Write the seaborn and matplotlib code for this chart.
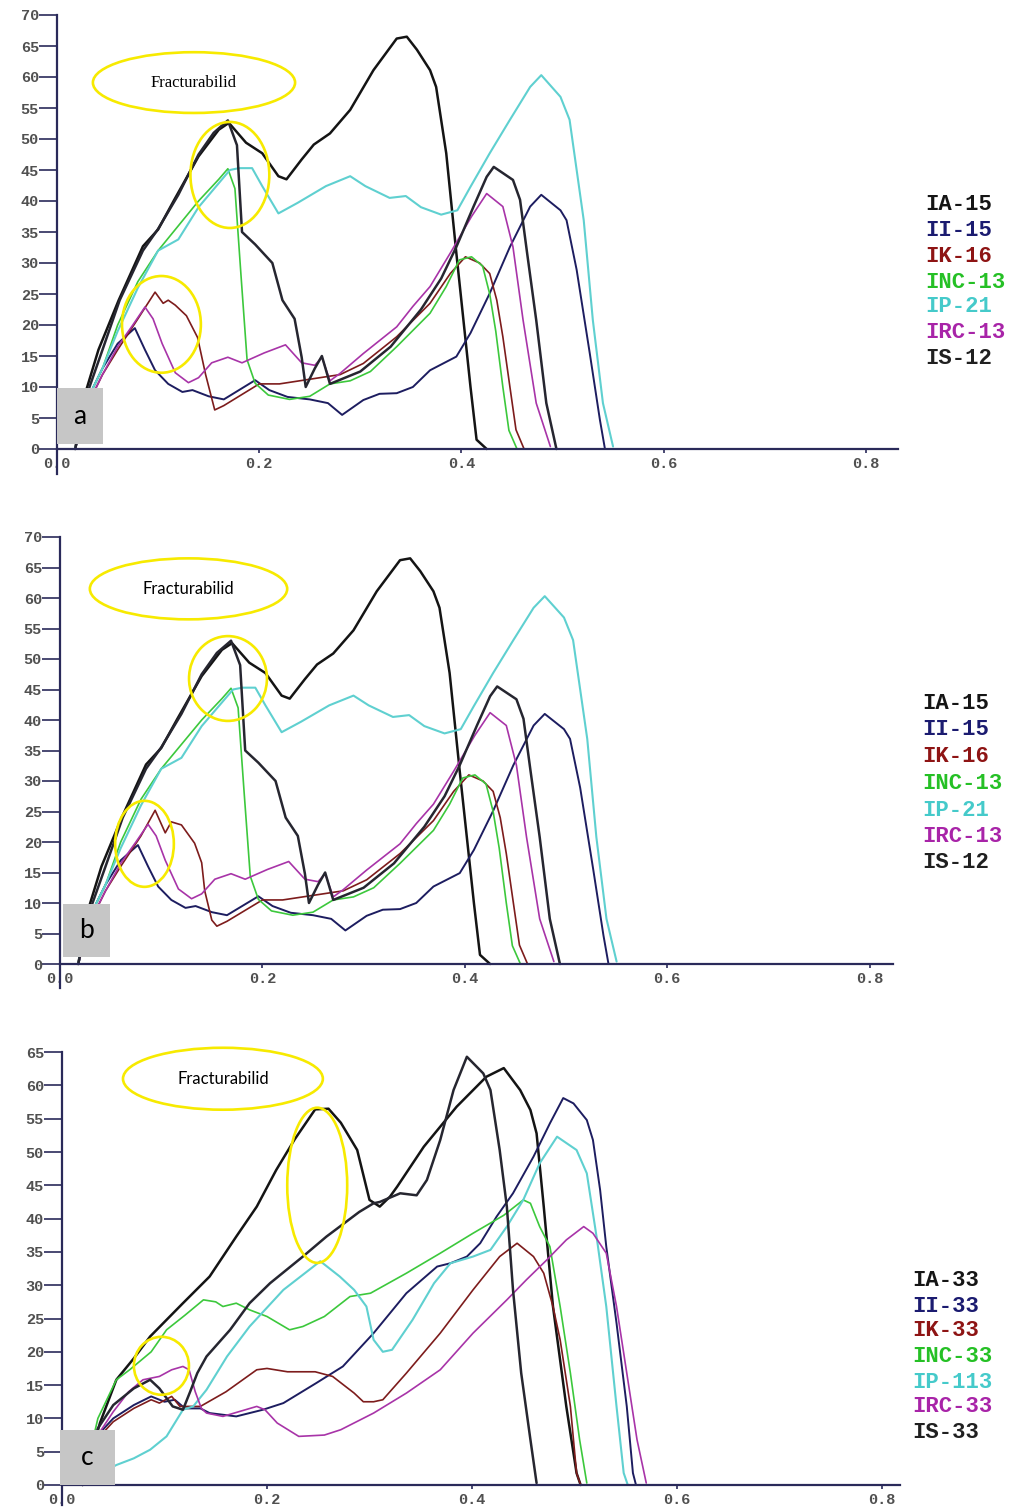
import matplotlib
matplotlib.use("Agg")
import matplotlib.pyplot as plt
import seaborn as sns
import pandas as pd
from matplotlib.patches import Ellipse, Rectangle

# ---------------- data ----------------
labels_ab = ["IA-15", "II-15", "IK-16", "INC-13", "IP-21", "IRC-13", "IS-12"]
labels_c = ["IA-33", "II-33", "IK-33", "INC-33", "IP-113", "IRC-33", "IS-33"]
x_ticks = [0.0, 0.2, 0.4, 0.6, 0.8]
y_ticks_ab = list(range(0, 75, 5))
y_ticks_c = list(range(0, 70, 5))
annot_text = "Fracturabilid"
panel_letters = ["a", "b", "c"]

# ---- panel a ----
a_IA_x = [0.018, 0.028, 0.041, 0.061, 0.085, 0.100, 0.116, 0.140, 0.160, 0.170, 0.187, 0.203, 0.219, 0.227,
          0.242, 0.254, 0.270, 0.290, 0.313, 0.336, 0.346, 0.356, 0.369, 0.375, 0.385, 0.395, 0.402, 0.409,
          0.415, 0.425]
a_IA_y = [0, 9, 16, 24, 32.7, 35.4, 40.2, 47.2, 51.5, 52.6, 49.4, 47.7, 44, 43.5,
          46.7, 49.1, 50.9, 54.7, 61.1, 66.2, 66.5, 64.4, 61.1, 58.4, 47.7, 31.6, 20.8, 10,
          1.5, 0]
a_II_x = [0.018, 0.030, 0.045, 0.060, 0.077, 0.087, 0.097, 0.110, 0.124, 0.134, 0.150, 0.165, 0.180, 0.196,
          0.210, 0.228, 0.250, 0.268, 0.282, 0.303, 0.319, 0.336, 0.352, 0.369, 0.395, 0.409, 0.428, 0.448,
          0.468, 0.479, 0.498, 0.504, 0.514, 0.527, 0.537, 0.542]
a_II_y = [0, 8, 13, 17, 19.5, 16, 12.7, 10.5, 9.2, 9.5, 8.5, 8.0, 9.5, 11.1,
          9.5, 8.4, 8.0, 7.4, 5.5, 7.9, 8.9, 9, 10, 12.7, 14.9, 18.7, 25.1, 32.6,
          39.1, 41, 38.5, 36.9, 28.9, 15.4, 4.7, 0]
a_IK_x = [0.018, 0.030, 0.045, 0.060, 0.080, 0.097, 0.105, 0.110, 0.117, 0.128, 0.139, 0.147, 0.156, 0.165,
          0.180, 0.200, 0.220, 0.240, 0.260, 0.280, 0.303, 0.336, 0.369, 0.389, 0.404, 0.418, 0.428, 0.435,
          0.441, 0.448, 0.454, 0.462]
a_IK_y = [0, 7, 12, 16, 21, 25.3, 23.5, 24, 23.2, 21.5, 18, 12, 6.3, 7,
          8.5, 10.5, 10.5, 11, 11.5, 12, 13.8, 18.1, 23.5, 28.3, 31, 30, 28.3, 24,
          18.1, 10, 3.1, 0]
a_INC_x = [0.018, 0.030, 0.045, 0.060, 0.080, 0.100, 0.120, 0.140, 0.160, 0.169, 0.176, 0.182, 0.188, 0.196,
           0.209, 0.230, 0.250, 0.270, 0.290, 0.310, 0.336, 0.369, 0.385, 0.398, 0.410, 0.421, 0.428, 0.434,
           0.441, 0.447, 0.455]
a_INC_y = [0, 8, 13, 20, 27, 32, 36, 40, 43.5, 45.2, 42, 28, 14.4, 10.6,
           8.7, 8, 8.5, 10.5, 11, 12.5, 16.5, 21.9, 26.2, 30.5, 31, 29.5, 25, 19,
           10, 3, 0]
a_IP_x = [0.018, 0.030, 0.045, 0.060, 0.080, 0.100, 0.120, 0.140, 0.171, 0.180, 0.193, 0.203, 0.219, 0.238,
          0.266, 0.290, 0.305, 0.329, 0.345, 0.360, 0.380, 0.396, 0.409, 0.428, 0.448, 0.468, 0.479, 0.498,
          0.507, 0.521, 0.530, 0.540, 0.550]
a_IP_y = [0, 8, 13, 19, 26, 32, 33.8, 39, 45, 45.3, 45.3, 42.4, 38, 39.7,
          42.4, 44, 42.4, 40.5, 40.8, 39, 37.8, 38.5, 42.3, 47.7, 53.1, 58.4, 60.3, 56.8,
          53.1, 36.9, 20.8, 7.4, 0.4]
a_IRC_x = [0.018, 0.030, 0.045, 0.060, 0.075, 0.087, 0.095, 0.104, 0.117, 0.130, 0.140, 0.153, 0.169, 0.183,
           0.205, 0.226, 0.242, 0.255, 0.262, 0.270, 0.280, 0.303, 0.336, 0.352, 0.369, 0.389, 0.410, 0.425,
           0.441, 0.451, 0.461, 0.474, 0.488]
a_IRC_y = [0, 7, 12, 16.5, 20, 22.9, 21, 17, 12.3, 10.7, 11.5, 13.9, 14.8, 13.9,
           15.5, 16.8, 13.9, 13.5, 14.8, 11, 12.2, 15.4, 19.7, 23, 26.2, 31.6, 37.5, 41.2,
           39.1, 32.6, 20.8, 7.4, 0.4]
a_IS_x = [0.018, 0.030, 0.045, 0.062, 0.085, 0.100, 0.120, 0.140, 0.155, 0.169, 0.178, 0.183, 0.196, 0.213,
          0.223, 0.235, 0.242, 0.246, 0.255, 0.262, 0.270, 0.285, 0.300, 0.330, 0.360, 0.380, 0.395, 0.412,
          0.425, 0.432, 0.451, 0.458, 0.465, 0.474, 0.484, 0.494]
a_IS_y = [0, 9, 16, 24, 32, 35.5, 41, 47.5, 51, 53, 49, 35, 33, 30,
          24, 21, 14.8, 10, 13, 15, 10.5, 11.5, 12.5, 16.5, 22.5, 27.5, 32.6, 39.1,
          43.9, 45.5, 43.4, 40.2, 31.6, 20.8, 7.4, 0]

# ---- panel b (same tests; IK-16 differs slightly) ----
b_IK_x = [0.018, 0.030, 0.045, 0.060, 0.080, 0.094, 0.104, 0.110, 0.120, 0.133, 0.140, 0.143, 0.150, 0.155,
          0.165, 0.180, 0.200, 0.220, 0.240, 0.260, 0.280, 0.303, 0.336, 0.369, 0.389, 0.404, 0.418, 0.428,
          0.435, 0.441, 0.448, 0.454, 0.462]
b_IK_y = [0, 7, 12, 16, 21, 25.2, 21.5, 23.3, 22.8, 19.8, 16.6, 12, 7.2, 6.2,
          7, 8.5, 10.5, 10.5, 11, 11.5, 12, 13.8, 18.1, 23.5, 28.3, 31, 30, 28.3,
          24, 18.1, 10, 3.1, 0]

# ---- panel c ----
c_IA_x = [0.020, 0.037, 0.053, 0.070, 0.086, 0.102, 0.118, 0.144, 0.170, 0.190, 0.209, 0.227, 0.247, 0.260,
          0.272, 0.288, 0.300, 0.310, 0.320, 0.327, 0.353, 0.385, 0.414, 0.431, 0.447, 0.457, 0.463, 0.470,
          0.479, 0.492, 0.502, 0.506]
c_IA_y = [0, 9.3, 15.8, 19, 22.3, 24.8, 27.3, 31.3, 37.3, 41.8, 47.3, 51.9, 56.4, 56.5,
          54.4, 50.3, 42.8, 41.8, 43.3, 44.8, 50.8, 56.8, 61.3, 62.6, 59.3, 56.3, 52.8, 41.8,
          26.8, 11.8, 1.8, 0]
c_II_x = [0.020, 0.035, 0.050, 0.070, 0.087, 0.100, 0.110, 0.120, 0.135, 0.144, 0.170, 0.196, 0.216, 0.248,
          0.274, 0.304, 0.336, 0.366, 0.379, 0.395, 0.408, 0.424, 0.440, 0.460, 0.476, 0.489, 0.499, 0.512,
          0.518, 0.525, 0.531, 0.541, 0.551, 0.557, 0.560]
c_II_y = [0, 7.5, 10, 12, 13.3, 12.5, 12.8, 11.5, 11.5, 10.8, 10.3, 11.3, 12.3, 15.3,
          17.8, 22.8, 28.8, 32.8, 33.3, 34.3, 36.3, 40.3, 43.8, 49.3, 54.3, 58.1, 57.3, 54.8,
          51.8, 44.3, 35.8, 24.3, 11.8, 1.8, 0]
c_IK_x = [0.020, 0.035, 0.050, 0.070, 0.087, 0.095, 0.107, 0.115, 0.135, 0.160, 0.190, 0.200, 0.220, 0.247,
          0.264, 0.285, 0.294, 0.304, 0.313, 0.336, 0.369, 0.401, 0.427, 0.444, 0.460, 0.470, 0.479, 0.486,
          0.496, 0.502, 0.506]
c_IK_y = [0, 7, 9.5, 11.5, 12.8, 12.3, 13.3, 11.8, 11.8, 14, 17.3, 17.5, 17, 17,
          16.3, 13.8, 12.5, 12.5, 12.8, 16.8, 22.8, 29.3, 34.3, 36.3, 34.3, 31.8, 26.8, 21.8,
          11.8, 1.8, 0]
c_INC_x = [0.020, 0.035, 0.053, 0.066, 0.087, 0.102, 0.120, 0.138, 0.150, 0.157, 0.170, 0.183, 0.200, 0.222,
           0.235, 0.256, 0.281, 0.301, 0.336, 0.369, 0.401, 0.431, 0.450, 0.457, 0.466, 0.476, 0.486, 0.496,
           0.505, 0.512]
c_INC_y = [0, 10, 15.8, 17.3, 20, 23.3, 25.5, 27.8, 27.5, 26.8, 27.3, 26.3, 25.3, 23.3,
           23.8, 25.3, 28.3, 28.8, 31.8, 34.8, 37.8, 40.5, 42.8, 42.3, 38.8, 35.8, 26.8, 16.8,
           6.8, 0.3]
c_IP_x = [0.030, 0.053, 0.070, 0.086, 0.102, 0.118, 0.128, 0.141, 0.161, 0.183, 0.216, 0.252, 0.271, 0.285,
          0.297, 0.304, 0.313, 0.322, 0.342, 0.363, 0.379, 0.401, 0.418, 0.434, 0.450, 0.466, 0.483, 0.502,
          0.512, 0.522, 0.531, 0.541, 0.548, 0.552]
c_IP_y = [1, 3, 4, 5.3, 7.3, 11.3, 11.8, 14.3, 19.3, 23.8, 29.3, 33.6, 31.3, 29.3,
          26.8, 21.8, 20, 20.3, 24.8, 30.3, 33.3, 34.3, 35.3, 38.8, 42.8, 48.3, 52.3, 50.3,
          46.8, 36.8, 26.8, 11.8, 1.8, 0]
c_IRC_x = [0.020, 0.035, 0.050, 0.065, 0.079, 0.095, 0.107, 0.118, 0.124, 0.130, 0.136, 0.141, 0.157, 0.190,
           0.198, 0.210, 0.231, 0.256, 0.272, 0.304, 0.336, 0.369, 0.401, 0.434, 0.453, 0.473, 0.492, 0.509,
           0.518, 0.531, 0.541, 0.551, 0.561, 0.570]
c_IRC_y = [0, 7.5, 11, 14, 15.8, 16.3, 17.3, 17.8, 17.3, 14, 11.5, 10.8, 10.3, 11.8,
           11.3, 9.3, 7.3, 7.5, 8.3, 10.8, 13.8, 17.3, 22.8, 27.8, 30.8, 33.8, 36.8, 38.8,
           37.8, 34.8, 26.8, 16.8, 6.8, 0.3]
c_IS_x = [0.020, 0.035, 0.050, 0.070, 0.086, 0.095, 0.108, 0.118, 0.125, 0.132, 0.141, 0.164, 0.183, 0.203,
          0.235, 0.258, 0.271, 0.290, 0.304, 0.310, 0.330, 0.346, 0.356, 0.369, 0.382, 0.395, 0.411, 0.418,
          0.427, 0.434, 0.440, 0.448, 0.457, 0.463]
c_IS_y = [0, 8.5, 12, 14.5, 15.8, 14.5, 11.8, 11.3, 14, 16.8, 19.3, 23.3, 27.3, 30.3,
          34.3, 37.3, 38.8, 41, 42.3, 42.5, 43.8, 43.5, 45.8, 51.8, 59.3, 64.3, 61.8, 59.3,
          50.3, 41.8, 29.3, 16.8, 6.8, 0.3]

a_series = [(a_IA_x, a_IA_y), (a_II_x, a_II_y), (a_IK_x, a_IK_y), (a_INC_x, a_INC_y),
            (a_IP_x, a_IP_y), (a_IRC_x, a_IRC_y), (a_IS_x, a_IS_y)]
b_series = [(a_IA_x, a_IA_y), (a_II_x, a_II_y), (b_IK_x, b_IK_y), (a_INC_x, a_INC_y),
            (a_IP_x, a_IP_y), (a_IRC_x, a_IRC_y), (a_IS_x, a_IS_y)]
c_series = [(c_IA_x, c_IA_y), (c_II_x, c_II_y), (c_IK_x, c_IK_y), (c_INC_x, c_INC_y),
            (c_IP_x, c_IP_y), (c_IRC_x, c_IRC_y), (c_IS_x, c_IS_y)]

# ---------------- style ----------------
line_colors = ["#141414", "#1d1d60", "#7d1c1c", "#3cc83c", "#5fd0d0", "#a834a8", "#262630"]
line_widths = [1.8, 1.4, 1.2, 1.2, 1.5, 1.2, 1.8]
legend_colors = ["#151515", "#1b1b70", "#8e1414", "#25c025", "#45caca", "#a824a8", "#202020"]
axis_color = "#2a2a5a"
yellow = "#f7ea00"

sns.set_style("white")
plt.rcParams["font.family"] = ["Liberation Mono", "DejaVu Sans"]

W, H = 1019, 1508
fig = plt.figure(figsize=(W / 100, H / 100), dpi=100)

# panel geometry in pixels: x0 px, px per x unit, y0 px, px per y unit, xmax, ymin, ymax
panels = [
    dict(series=a_series, labels=labels_ab, x0=57, kx=1011, y0=449, ky=6.2, xmax=0.832, ymin=-4, ymax=70,
         yticks=y_ticks_ab,
         ell=[(0.1355, 59.1, 0.200, 9.8, True), (0.171, 44.2, 0.078, 17.1, False), (0.1033, 20.1, 0.078, 15.6, False)],
         tfont=["Liberation Serif"], box=(0.0, 0.8, 0.0455, 9.0),
         leg_x=925, leg_y=[205, 231, 256, 282, 307, 333, 359]),
    dict(series=b_series, labels=labels_ab, x0=60, kx=1012, y0=964, ky=6.1, xmax=0.823, ymin=-4, ymax=70,
         yticks=y_ticks_ab,
         ell=[(0.127, 61.5, 0.195, 10.0, True), (0.166, 46.8, 0.077, 13.9, False), (0.0835, 19.7, 0.058, 14.1, False)],
         tfont=["Lato", "DejaVu Sans"], box=(0.003, 1.2, 0.046, 8.6),
         leg_x=922, leg_y=[703, 730, 757, 783, 810, 837, 863]),
    dict(series=c_series, labels=labels_c, x0=62, kx=1025, y0=1485, ky=6.66, xmax=0.818, ymin=-3, ymax=65,
         yticks=y_ticks_c,
         ell=[(0.157, 61.0, 0.195, 9.3, True), (0.249, 45.0, 0.0585, 23.3, False), (0.097, 17.9, 0.0537, 8.7, False)],
         tfont=["Lato", "DejaVu Sans"], box=(-0.002, 0.0, 0.054, 8.3),
         leg_x=912, leg_y=[1280, 1306, 1331, 1357, 1382, 1407, 1432]),
]

for pi, p in enumerate(panels):
    left = p["x0"] / W
    width = p["xmax"] * p["kx"] / W
    top_px = p["y0"] - p["ymax"] * p["ky"]
    bot_px = p["y0"] - p["ymin"] * p["ky"]
    ax = fig.add_axes([left, 1 - bot_px / H, width, (bot_px - top_px) / H])
    ax.set_facecolor("white")

    for (xs, ys), col, lw in zip(p["series"], line_colors, line_widths):
        df = pd.DataFrame({"x": xs, "y": ys})
        sns.lineplot(data=df, x="x", y="y", sort=False, estimator=None, color=col,
                     linewidth=lw, ax=ax, legend=False)

    ax.set_xlim(0, p["xmax"])
    ax.set_ylim(p["ymin"], p["ymax"])
    ax.set_xlabel("")
    ax.set_ylabel("")
    for s in ["top", "right"]:
        ax.spines[s].set_visible(False)
    ax.spines["bottom"].set_position(("data", 0))
    for s in ["left", "bottom"]:
        ax.spines[s].set_color(axis_color)
        ax.spines[s].set_linewidth(1.6)
    ax.set_xticks(x_ticks)
    ax.set_xticklabels([f"{v:.1f}" for v in x_ticks])
    ax.set_yticks(p["yticks"])
    ax.set_yticklabels([str(v) for v in p["yticks"]])
    ax.tick_params(axis="y", which="major", left=True, direction="out", length=13, width=1.2,
                   color=axis_color, pad=0, labelsize=11, labelcolor="#505050")
    ax.tick_params(axis="x", which="major", bottom=True, direction="out", length=3, width=1.2,
                   color=axis_color, pad=3, labelsize=11, labelcolor="#505050")
    for lab in ax.get_xticklabels() + ax.get_yticklabels():
        lab.set_fontweight("bold")
        lab.set_fontfamily(["Liberation Mono", "DejaVu Sans"])

    # yellow ellipses
    for (cx, cy, ew, eh, with_text) in p["ell"]:
        ax.add_patch(Ellipse((cx, cy), ew, eh, fill=False, edgecolor=yellow, linewidth=1.9,
                             zorder=6, clip_on=False))
        if with_text:
            ax.text(cx, cy, annot_text, ha="center", va="center", fontsize=12,
                    family=p["tfont"], color="black", zorder=7)

    # grey letter box
    bx, by, bw, bh = p["box"]
    ax.add_patch(Rectangle((bx, by), bw, bh, facecolor="#c6c6c6", edgecolor="none",
                           zorder=8, clip_on=False))
    ax.text(bx + bw / 2, by + bh / 2, panel_letters[pi], ha="center", va="center",
            fontsize=19, family=["Lato", "DejaVu Sans"], color="black", zorder=9)

    # legend as coloured text on the right
    for lab, col, ly in zip(p["labels"], legend_colors, p["leg_y"]):
        fig.text(p["leg_x"] / W, 1 - ly / H, lab, color=col, fontsize=16, fontweight="bold",
                 family=["Liberation Mono", "DejaVu Sans"], ha="left", va="center")

fig.savefig("out.png", dpi=100, facecolor="white")
